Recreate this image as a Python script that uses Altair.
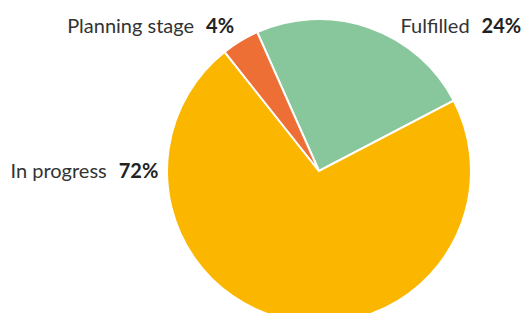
import math
import altair as alt
import pandas as pd

categories = ["Fulfilled", "In progress", "Planning stage"]
values = [24, 72, 4]
colors = ["#88c79b", "#fbb600", "#ed6f35"]

df = pd.DataFrame({"category": categories, "value": values, "rank": [0, 1, 2]})

start = math.radians(-24)
theta_scale = alt.Scale(domain=[0, 100], range=[start, start + 2 * math.pi])
color_scale = alt.Scale(domain=categories, range=colors)

CX, CY, R = 311, 163, 152

base = alt.Chart(df).transform_window(
    cum="sum(value)", sort=[alt.SortField("rank")], frame=[None, 0]
).transform_calculate(
    t0="datum.cum - datum.value",
    tmid="datum.cum - datum.value / 2",
    pct="datum.value + '%'",
)

pie = base.mark_arc(outerRadius=R, stroke="white", strokeWidth=2).encode(
    theta=alt.Theta("t0:Q", scale=theta_scale),
    theta2="cum:Q",
    color=alt.Color("category:N", scale=color_scale, legend=None),
    x=alt.value(CX),
    y=alt.value(CY),
)

# label offsets (dx, dy) from the slice mid-angle at radius 160
offsets = {
    "Fulfilled": (104, 13),
    "In progress": (-173, -150),
    "Planning stage": (-36, -1),
}

layers = [pie]
for cat in categories:
    dx, dy = offsets[cat]
    filt = base.transform_filter(alt.datum.category == cat)
    enc = dict(
        theta=alt.Theta("tmid:Q", scale=theta_scale),
        x=alt.value(CX),
        y=alt.value(CY),
    )
    name = filt.mark_text(
        radius=160, dx=dx - 6, dy=dy, align="right", baseline="alphabetic",
        font="Lato", fontSize=20, color="#333333",
    ).encode(text="category:N", **enc)
    pct = filt.mark_text(
        radius=160, dx=dx + 6, dy=dy, align="left", baseline="alphabetic",
        font="Lato", fontSize=20, fontWeight="bold", color="#222222",
    ).encode(text="pct:N", **enc)
    layers += [name, pct]

chart = alt.layer(*layers).properties(
    width=513, height=305, padding=0, autosize=alt.AutoSizeParams(type="none")
).configure_view(stroke=None)

chart.save("out.html", embed_options={"renderer": "svg", "actions": False})
